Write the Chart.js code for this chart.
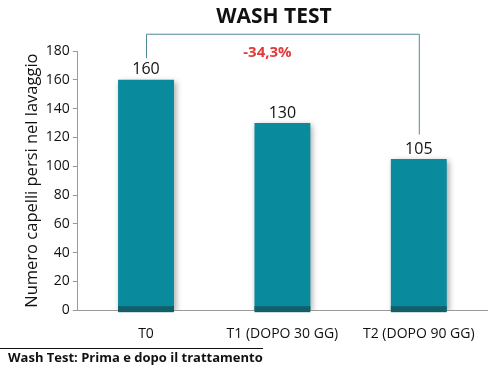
<!DOCTYPE html>
<html lang="it">
<head>
    <meta charset="UTF-8">
    <title>Wash Test</title>
    <script src="https://cdn.jsdelivr.net/npm/chart.js@4.4.0/dist/chart.umd.min.js"></script>
    <style>
        html, body { margin: 0; padding: 0; background: #fff; }
        #wrap { width: 501px; height: 367px; position: relative; }
    </style>
</head>
<body>
<div id="wrap"><canvas id="washChart"></canvas></div>
<script>
    // dati
    var categorie = ['T0', 'T1 (DOPO 30 GG)', 'T2 (DOPO 90 GG)'];
    var capelliPersi = [160, 130, 105];
    var yTicks = [0, 20, 40, 60, 80, 100, 120, 140, 160, 180];
    var differenza = '-34,3%';
    // estremi della parentesi (valori sull'asse y)
    var parentesiSx = 175, parentesiTop = 192, parentesiDx = 122;

    var FONT = "'Open Sans', 'DejaVu Sans', sans-serif";

    // ombra delle barre
    var ombraPlugin = {
        id: 'ombra',
        beforeDatasetDraw: function(chart) {
            var ctx = chart.ctx;
            ctx.save();
            ctx.shadowColor = 'rgba(0,0,0,0.35)';
            ctx.shadowBlur = 6;
            ctx.shadowOffsetX = 2;
            ctx.shadowOffsetY = 2;
        },
        afterDatasetDraw: function(chart) {
            chart.ctx.restore();
        }
    };

    // titolo, etichette sopra le barre, parentesi, piede
    var extraPlugin = {
        id: 'extra',
        afterDatasetsDraw: function(chart) {
            var ctx = chart.ctx;
            var meta = chart.getDatasetMeta(0);
            var y = chart.scales.y;
            ctx.save();
            // titolo
            ctx.fillStyle = '#111';
            ctx.font = 'bold 21px ' + FONT;
            ctx.textAlign = 'center';
            ctx.textBaseline = 'middle';
            ctx.fillText('WASH TEST', 274, 17);
            meta.data.forEach(function(bar, i) {
                // fascia scura alla base
                var w = bar.width;
                ctx.fillStyle = '#125f6a';
                ctx.fillRect(bar.x - w / 2, y.getPixelForValue(0) - 4, w, 6);
                // valore
                ctx.fillStyle = '#111';
                ctx.font = '16px ' + FONT;
                ctx.textAlign = 'center';
                ctx.textBaseline = 'bottom';
                ctx.fillText(capelliPersi[i], bar.x, bar.y - 2);
            });
            // parentesi
            var x0 = meta.data[0].x, x2 = meta.data[2].x;
            ctx.strokeStyle = '#4f8a96';
            ctx.lineWidth = 1;
            ctx.beginPath();
            ctx.moveTo(x0 + 0.5, y.getPixelForValue(parentesiSx));
            ctx.lineTo(x0 + 0.5, y.getPixelForValue(parentesiTop) + 0.5);
            ctx.lineTo(x2 + 0.5, y.getPixelForValue(parentesiTop) + 0.5);
            ctx.lineTo(x2 + 0.5, y.getPixelForValue(parentesiDx));
            ctx.stroke();
            ctx.fillStyle = '#e03a3a';
            ctx.font = 'bold 15px ' + FONT;
            ctx.textAlign = 'center';
            ctx.textBaseline = 'middle';
            ctx.fillText(differenza, (x0 + x2) / 2 - 15, y.getPixelForValue(179));
            // piede
            ctx.strokeStyle = '#111';
            ctx.beginPath();
            ctx.moveTo(0, 348.5);
            ctx.lineTo(263, 348.5);
            ctx.stroke();
            ctx.fillStyle = '#111';
            ctx.font = 'bold 13px ' + FONT;
            ctx.textAlign = 'left';
            ctx.fillText('Wash Test: Prima e dopo il trattamento', 8, 358);
            ctx.restore();
        }
    };

    new Chart(document.getElementById('washChart'), {
        type: 'bar',
        data: {
            labels: categorie,
            datasets: [{
                data: capelliPersi,
                backgroundColor: '#0a8b9d',
                borderWidth: 0,
                categoryPercentage: 1,
                barPercentage: 0.41
            }]
        },
        options: {
            responsive: true,
            maintainAspectRatio: false,
            animation: false,
            layout: { padding: { top: 51, right: 14, bottom: 18, left: 22 } },
            plugins: {
                legend: { display: false },
                tooltip: { enabled: false },
                title: { display: false }
            },
            scales: {
                x: {
                    grid: { display: false },
                    border: { color: '#9a9a9a' },
                    ticks: { color: '#111', font: { family: FONT, size: 14 }, padding: 7 }
                },
                y: {
                    min: 0,
                    max: 180,
                    afterBuildTicks: function(axis) {
                        axis.ticks = yTicks.map(function(v) { return { value: v }; });
                    },
                    grid: { drawOnChartArea: false, drawTicks: true, tickLength: 5, color: '#9a9a9a' },
                    border: { color: '#9a9a9a' },
                    ticks: { color: '#111', font: { family: FONT, size: 14 }, padding: 3 },
                    title: {
                        display: true,
                        text: 'Numero capelli persi nel lavaggio',
                        color: '#111',
                        font: { family: FONT, size: 16.5 },
                        padding: { top: 0, bottom: 1 }
                    }
                }
            }
        },
        plugins: [ombraPlugin, extraPlugin]
    });
</script>
</body>
</html>
